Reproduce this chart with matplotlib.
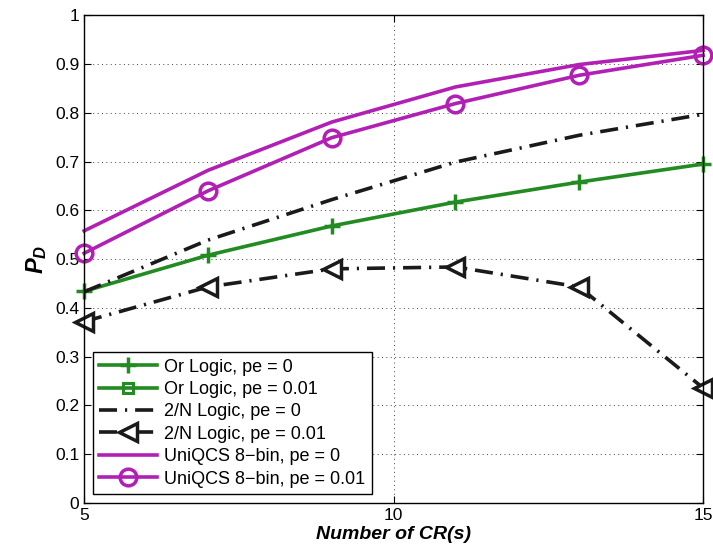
import numpy as np
import matplotlib
matplotlib.use('Agg')
import matplotlib.pyplot as plt

plt.rcParams['font.family'] = ['Liberation Sans', 'DejaVu Sans']
plt.rcParams['mathtext.fontset'] = 'custom'
plt.rcParams['mathtext.it'] = 'Liberation Sans:bold:italic'
plt.rcParams['mathtext.rm'] = 'Liberation Sans:bold:italic'

n_cr = [5, 7, 9, 11, 13, 15]

or_pe0 = [0.434, 0.508, 0.568, 0.617, 0.658, 0.695]
or_pe001 = []  # hidden under pe = 0 curve
two_n_pe0 = [0.433, 0.539, 0.622, 0.699, 0.754, 0.797]
two_n_pe001 = [0.372, 0.443, 0.480, 0.484, 0.443, 0.236]
uni_pe0 = [0.558, 0.682, 0.781, 0.853, 0.899, 0.928]
uni_pe001 = [0.512, 0.640, 0.749, 0.819, 0.877, 0.918]

green = '#228B22'
magenta = '#B21FB5'
lw = 2.6
dashdot = (5, 2.2, 0.6, 2.2)

fig = plt.figure(figsize=(7.13, 5.58), dpi=100)
ax = fig.add_axes([0.118, 0.0986, 0.868, 0.874])

ax.plot(n_cr, or_pe0, color=green, lw=lw, marker='+', ms=11, mew=2.5,
        clip_on=False, label='Or Logic, pe = 0')
ax.plot(or_pe001, or_pe001, color=green, lw=lw, marker='s', ms=7, mew=2.2,
        mfc='none', label='Or Logic, pe = 0.01')
ax.plot(n_cr, two_n_pe0, color='#1a1a1a', lw=lw, dashes=dashdot,
        clip_on=False, label='2/N Logic, pe = 0')
ax.plot(n_cr, two_n_pe001, color='#1a1a1a', lw=lw, dashes=dashdot,
        marker='<', ms=13, mew=2.5, mfc='white', clip_on=False,
        label='2/N Logic, pe = 0.01')
ax.plot(n_cr, uni_pe0, color=magenta, lw=lw, clip_on=False,
        label='UniQCS 8\u2212bin, pe = 0')
ax.plot(n_cr, uni_pe001, color=magenta, lw=lw, marker='o', ms=12, mew=2.5,
        mfc='none', clip_on=False, label='UniQCS 8\u2212bin, pe = 0.01')

ax.set_xlim(5, 15)
ax.set_ylim(0, 1)
ax.set_xticks([5, 10, 15])
ax.set_yticks(np.arange(0, 1.01, 0.1))
ax.set_yticklabels(['0', '0.1', '0.2', '0.3', '0.4', '0.5', '0.6', '0.7',
                    '0.8', '0.9', '1'])
ax.tick_params(direction='in', top=True, right=True, labelsize=12.5, length=5)
ax.grid(True, linestyle=(0, (1, 3.5)), color='#444444', linewidth=0.7)
for s in ax.spines.values():
    s.set_linewidth(1.0)

ax.set_xlabel('Number of CR(s)', fontsize=14, fontweight='bold',
              fontstyle='italic', labelpad=2)
ax.set_ylabel(r'$P_D$', fontsize=17, labelpad=4)

leg = ax.legend(loc='lower left', fontsize=13, handlelength=3.2, numpoints=1,
                fancybox=False, edgecolor='black', framealpha=1,
                borderaxespad=0.5, labelspacing=0.3, handletextpad=0.4,
                borderpad=0.35)
leg.get_frame().set_linewidth(1.0)

fig.savefig('out.png', dpi=100)
